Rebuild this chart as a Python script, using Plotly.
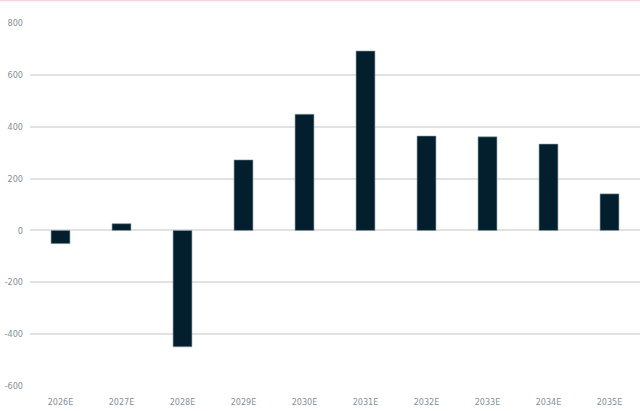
import plotly.graph_objects as go

years = ["2026E", "2027E", "2028E", "2029E", "2030E",
         "2031E", "2032E", "2033E", "2034E", "2035E"]
values = [-51, 26, -449, 272, 448, 692, 364, 361, 333, 141]
y_ticks = [-600, -400, -200, 0, 200, 400, 600, 800]

BAR = "#031f2e"
GRID = "#e2e2e2"
TICK_FONT = dict(family="Liberation Sans Narrow, DejaVu Sans Condensed, DejaVu Sans",
                 size=9, color="#85909a")

fig = go.Figure(
    go.Bar(
        x=years,
        y=values,
        width=0.31,
        marker=dict(color=BAR, line=dict(color="#8d9aa6", width=0.6)),
        hoverinfo="x+y",
    )
)

fig.update_layout(
    width=640,
    height=411,
    margin=dict(l=30, r=0, t=23, b=25),
    paper_bgcolor="white",
    plot_bgcolor="white",
    showlegend=False,
    shapes=[
        dict(type="line", xref="paper", yref="paper",
             x0=-0.05, x1=1.0, y0=1.0625, y1=1.0625,
             line=dict(color="#f7d3db", width=2)),
    ],
)

fig.update_xaxes(
    type="category",
    showgrid=False,
    showline=False,
    zeroline=False,
    ticks="",
    tickfont=TICK_FONT,
    ticklabelstandoff=9,
)

fig.update_yaxes(
    range=[-600, 800],
    tickvals=y_ticks,
    ticktext=[str(v) for v in y_ticks],
    showgrid=True,
    gridcolor=GRID,
    gridwidth=1.5,
    zeroline=True,
    zerolinecolor=GRID,
    zerolinewidth=1.5,
    showline=False,
    ticks="",
    tickfont=TICK_FONT,
    ticklabelstandoff=6,
)

fig.write_html("out.html")
